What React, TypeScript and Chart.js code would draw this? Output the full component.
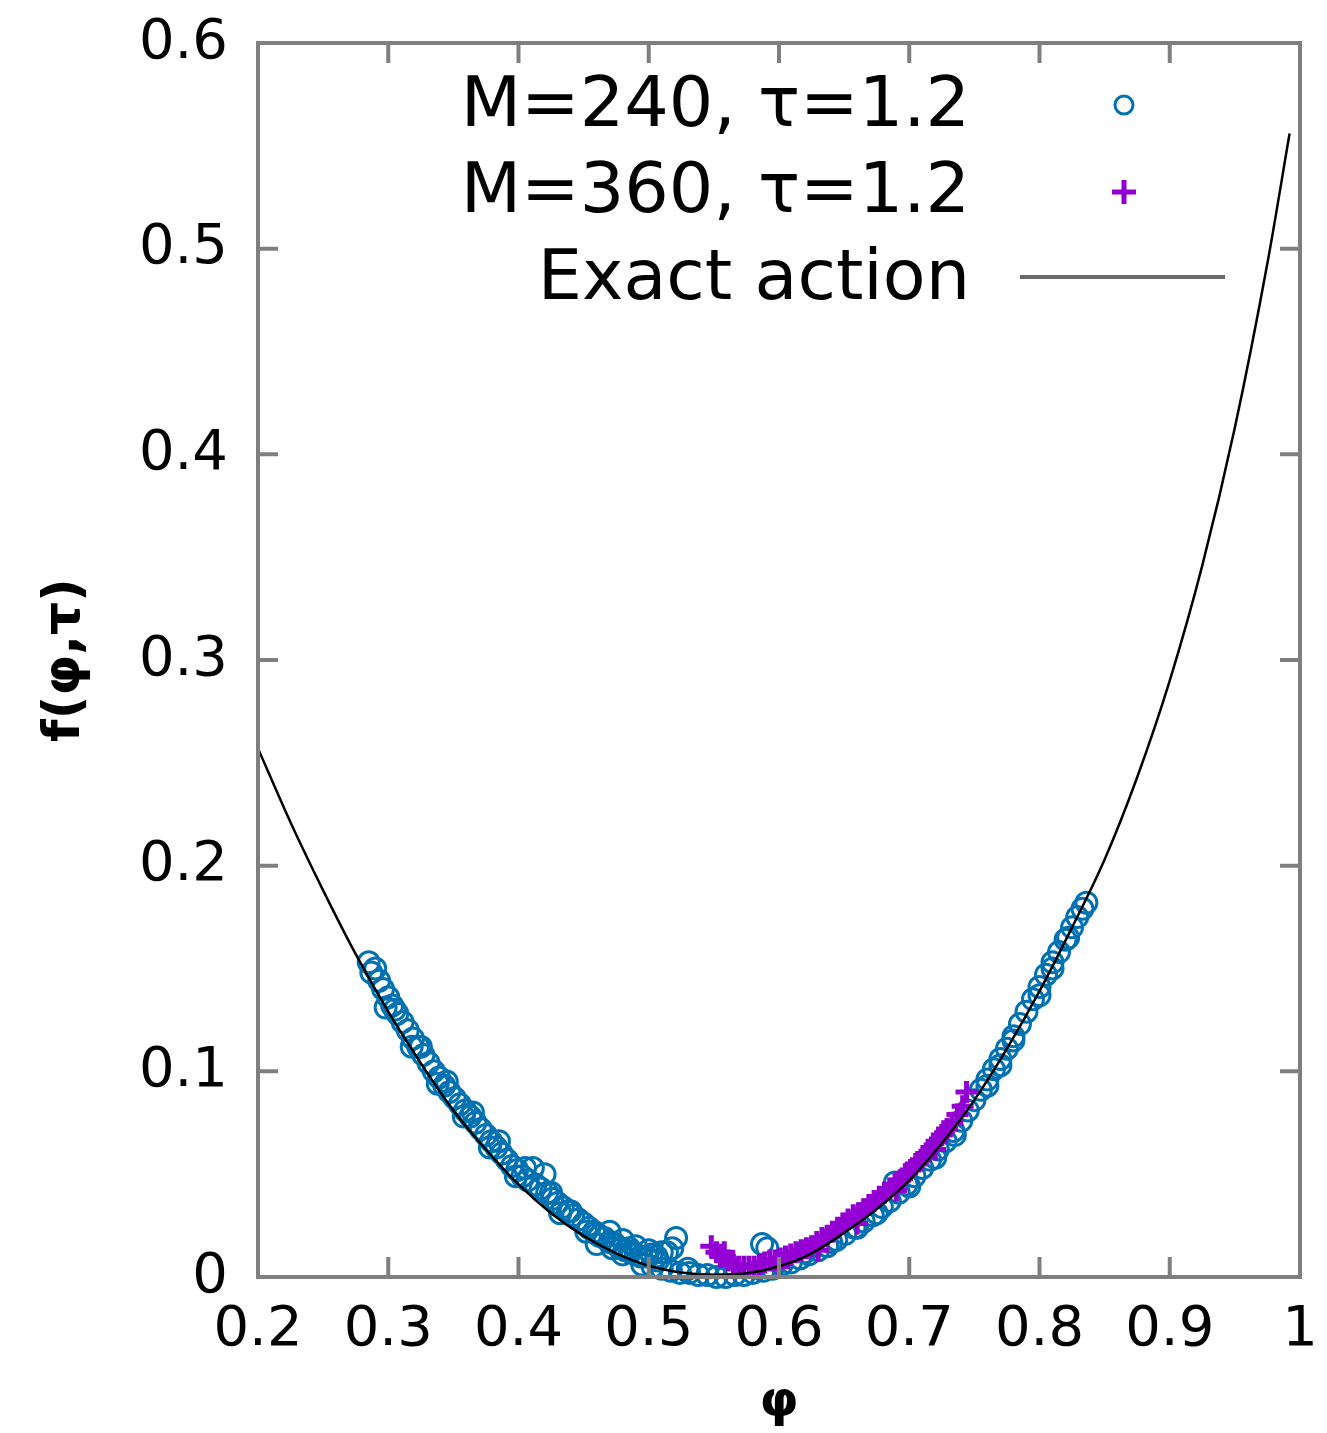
import React, { useEffect, useRef } from "react";
import { Chart, registerables } from "chart.js";

Chart.register(...registerables);

const xTicks = [0.2, 0.3, 0.4, 0.5, 0.6, 0.7, 0.8, 0.9, 1];
const yTicks = [0, 0.1, 0.2, 0.3, 0.4, 0.5, 0.6];

const legendLabels = ["M=240, τ=1.2", "M=360, τ=1.2", "Exact action"];

const curvePhi = [
  0.2, 0.225, 0.25, 0.275, 0.3, 0.325, 0.35, 0.375, 0.4, 0.425, 0.45, 0.475,
  0.5, 0.525, 0.55, 0.575, 0.6, 0.625, 0.65, 0.675, 0.7, 0.725, 0.75, 0.775,
  0.8, 0.825, 0.85, 0.875, 0.9, 0.925, 0.95, 0.975, 0.992,
];
const curveF = [
  0.257, 0.221, 0.188, 0.157, 0.129, 0.104, 0.081, 0.062, 0.045, 0.031, 0.02,
  0.0115, 0.0055, 0.0022, 0.0011, 0.0018, 0.0052, 0.0115, 0.0215, 0.033, 0.047,
  0.065, 0.086, 0.111, 0.139, 0.17, 0.203, 0.243, 0.29, 0.346, 0.413, 0.493,
  0.556,
];

const m240Phi = [
  0.285, 0.287, 0.29, 0.293, 0.296, 0.3, 0.303, 0.307, 0.311, 0.315,
  0.319, 0.323, 0.327, 0.331, 0.335, 0.339, 0.343, 0.347, 0.351, 0.355,
  0.359, 0.363, 0.367, 0.371, 0.375, 0.379, 0.383, 0.387, 0.391, 0.395,
  0.399, 0.403, 0.407, 0.411, 0.413, 0.417, 0.42, 0.422, 0.426, 0.43,
  0.434, 0.438, 0.442, 0.446, 0.45, 0.454, 0.458, 0.462, 0.466, 0.47,
  0.474, 0.478, 0.482, 0.486, 0.49, 0.494, 0.498, 0.502, 0.506, 0.51,
  0.514, 0.518, 0.521, 0.47, 0.48, 0.49, 0.5, 0.46, 0.48, 0.495,
  0.503, 0.51, 0.517, 0.524, 0.531, 0.538, 0.545, 0.552, 0.559, 0.566,
  0.573, 0.58, 0.587, 0.591, 0.588, 0.595, 0.602, 0.609, 0.616, 0.623,
  0.63, 0.637, 0.644, 0.651, 0.658, 0.665, 0.672, 0.679, 0.685, 0.689,
  0.692, 0.698, 0.704, 0.71, 0.716, 0.722, 0.728, 0.734, 0.74, 0.745,
  0.75, 0.755, 0.76, 0.765, 0.77, 0.775, 0.78, 0.785, 0.79, 0.795,
  0.8, 0.805, 0.81, 0.815, 0.82, 0.825, 0.829, 0.833, 0.836,
  0.298, 0.318, 0.338, 0.358, 0.378, 0.398, 0.432, 0.452, 0.472,
  0.66, 0.7, 0.72, 0.76, 0.78, 0.81,
  0.305, 0.325, 0.345, 0.365, 0.385, 0.405, 0.425, 0.44, 0.46, 0.485,
  0.507, 0.53, 0.62, 0.64, 0.675, 0.735, 0.77, 0.8, 0.822,
];
const m240F = [
  0.153, 0.148, 0.15, 0.144, 0.14, 0.136, 0.132, 0.128, 0.124, 0.12,
  0.116, 0.112, 0.108, 0.104, 0.1, 0.097, 0.093, 0.09, 0.087, 0.084,
  0.081, 0.078, 0.075, 0.072, 0.069, 0.066, 0.063, 0.06, 0.057, 0.054,
  0.052, 0.049, 0.047, 0.053, 0.045, 0.043, 0.05, 0.041, 0.038, 0.036,
  0.034, 0.032, 0.03, 0.028, 0.026, 0.024, 0.022, 0.02, 0.019, 0.017,
  0.016, 0.014, 0.013, 0.012, 0.011, 0.01, 0.01, 0.011, 0.01, 0.012,
  0.012, 0.014, 0.019, 0.022, 0.018, 0.015, 0.013, 0.016, 0.011, 0.006,
  0.005, 0.004, 0.003, 0.002, 0.002, 0.001, 0.001, 0.0, 0.0, 0.001,
  0.001, 0.002, 0.016, 0.014, 0.003, 0.004, 0.006, 0.007, 0.009, 0.011,
  0.013, 0.015, 0.018, 0.021, 0.024, 0.027, 0.03, 0.034, 0.037, 0.046,
  0.041, 0.045, 0.049, 0.053, 0.057, 0.062, 0.066, 0.071, 0.076, 0.081,
  0.086, 0.091, 0.096, 0.101, 0.106, 0.111, 0.117, 0.123, 0.129, 0.135,
  0.141, 0.147, 0.153, 0.158, 0.164, 0.17, 0.175, 0.179, 0.182,
  0.131, 0.112, 0.094, 0.078, 0.063, 0.049, 0.031, 0.022, 0.014,
  0.024, 0.044, 0.058, 0.093, 0.115, 0.150,
  0.13, 0.112, 0.095, 0.08, 0.066, 0.053, 0.041, 0.032, 0.021, 0.014,
  0.008, 0.004, 0.012, 0.017, 0.031, 0.069, 0.103, 0.137, 0.165,
];

const m360Phi = [
  0.548, 0.552, 0.555, 0.558, 0.561, 0.565, 0.569, 0.573, 0.577, 0.581,
  0.585, 0.589, 0.593, 0.597, 0.601, 0.605, 0.609, 0.613, 0.617, 0.621,
  0.625, 0.629, 0.633, 0.637, 0.641, 0.645, 0.649, 0.653, 0.657, 0.661,
  0.665, 0.669, 0.673, 0.677, 0.681, 0.685, 0.689, 0.693, 0.697, 0.701,
  0.705, 0.709, 0.713, 0.717, 0.721, 0.725, 0.729, 0.733, 0.737, 0.741,
  0.744, 0.6, 0.63, 0.66, 0.69, 0.72,
];
const m360F = [
  0.015, 0.012, 0.01, 0.012, 0.008, 0.006, 0.005, 0.005, 0.005, 0.005,
  0.006, 0.007, 0.008, 0.008, 0.009, 0.01, 0.011, 0.012, 0.013, 0.014,
  0.015, 0.017, 0.019, 0.02, 0.022, 0.024, 0.026, 0.028, 0.03, 0.031,
  0.033, 0.035, 0.037, 0.039, 0.041, 0.043, 0.045, 0.047, 0.05, 0.052,
  0.055, 0.057, 0.06, 0.063, 0.066, 0.069, 0.072, 0.075, 0.079, 0.083,
  0.09, 0.005, 0.013, 0.026, 0.042, 0.062,
];

const FONT = "'DejaVu Sans', 'Liberation Sans', sans-serif";
const BLUE = "#0072b2";
const PURPLE = "#9400d3";
const BORDER = "#7f7f7f";

const zip = (xs: number[], ys: number[]) => xs.map((x, i) => ({ x, y: ys[i] }));

const zeroPad = (s: any) => {
  s.paddingTop = 0;
  s.paddingBottom = 0;
  s.paddingLeft = 0;
  s.paddingRight = 0;
};

const framePlugin = {
  id: "frame",
  afterDatasetsDraw(chart: any) {
    const { ctx, chartArea: a, scales } = chart;
    ctx.save();
    ctx.strokeStyle = BORDER;
    ctx.lineWidth = 4;
    const tl = 20;
    ctx.beginPath();
    xTicks.forEach((v) => {
      const px = scales.x.getPixelForValue(v);
      ctx.moveTo(px, a.bottom);
      ctx.lineTo(px, a.bottom - tl);
      ctx.moveTo(px, a.top);
      ctx.lineTo(px, a.top + tl);
    });
    yTicks.forEach((v) => {
      const py = scales.y.getPixelForValue(v);
      ctx.moveTo(a.left, py);
      ctx.lineTo(a.left + tl, py);
      ctx.moveTo(a.right, py);
      ctx.lineTo(a.right - tl, py);
    });
    ctx.stroke();
    ctx.strokeRect(a.left, a.top, a.right - a.left, a.bottom - a.top);
    ctx.restore();
  },
  afterDraw(chart: any) {
    const { ctx } = chart;
    ctx.save();
    ctx.font = `70px ${FONT}`;
    ctx.fillStyle = "#000";
    ctx.textAlign = "right";
    ctx.textBaseline = "middle";
    const rows = [108, 194, 281];
    legendLabels.forEach((t, i) => ctx.fillText(t, 970, rows[i]));
    ctx.strokeStyle = BLUE;
    ctx.lineWidth = 3;
    ctx.beginPath();
    ctx.arc(1124, 105, 9, 0, Math.PI * 2);
    ctx.stroke();
    ctx.strokeStyle = PURPLE;
    ctx.lineWidth = 5;
    ctx.beginPath();
    ctx.moveTo(1112, 192);
    ctx.lineTo(1136, 192);
    ctx.moveTo(1124, 180);
    ctx.lineTo(1124, 204);
    ctx.stroke();
    ctx.strokeStyle = "#6a6a6a";
    ctx.lineWidth = 4;
    ctx.beginPath();
    ctx.moveTo(1020, 277);
    ctx.lineTo(1225, 277);
    ctx.stroke();
    ctx.restore();
  },
};

export default function App() {
  const ref = useRef<HTMLCanvasElement | null>(null);
  useEffect(() => {
    if (!ref.current) return;
    const chart = new Chart(ref.current, {
      type: "scatter",
      data: {
        datasets: [
          {
            label: legendLabels[2],
            data: zip(curvePhi, curveF),
            showLine: true,
            borderColor: "#000",
            borderWidth: 2.5,
            pointRadius: 0,
            cubicInterpolationMode: "monotone",
            order: 0,
          } as any,
          {
            label: legendLabels[1],
            data: zip(m360Phi, m360F),
            pointStyle: "cross",
            pointRadius: 11,
            borderColor: PURPLE,
            backgroundColor: PURPLE,
            pointBorderWidth: 5,
            borderWidth: 5,
            clip: false,
            order: 1,
          } as any,
          {
            label: legendLabels[0],
            data: zip(m240Phi, m240F),
            pointStyle: "circle",
            pointRadius: 10.5,
            borderColor: BLUE,
            backgroundColor: "rgba(0,0,0,0)",
            pointBorderWidth: 3,
            borderWidth: 3,
            clip: false,
            order: 2,
          } as any,
        ],
      },
      options: {
        responsive: false,
        animation: false,
        devicePixelRatio: 1,
        layout: { padding: { left: 0, right: 27, top: 43, bottom: 0 } },
        plugins: { legend: { display: false }, tooltip: { enabled: false } },
        scales: {
          x: {
            type: "linear",
            min: 0.2,
            max: 1,
            grid: { display: false, drawTicks: false },
            border: { display: false },
            afterBuildTicks: (s: any) => {
              s.ticks = xTicks.map((v) => ({ value: v }));
            },
            afterFit: (s: any) => {
              s.height = 156;
              zeroPad(s);
            },
            ticks: {
              padding: 20,
              color: "#000",
              maxRotation: 0,
              autoSkip: false,
              font: { family: FONT, size: 56 },
              callback: (v: any) => String(v),
            },
            title: {
              display: true,
              text: "φ",
              color: "#000",
              font: { family: FONT, size: 50, weight: "bold" },
              padding: { top: 0, bottom: 0 },
            },
          },
          y: {
            type: "linear",
            min: 0,
            max: 0.6,
            grid: { display: false, drawTicks: false },
            border: { display: false },
            afterBuildTicks: (s: any) => {
              s.ticks = yTicks.map((v) => ({ value: v }));
            },
            afterFit: (s: any) => {
              s.width = 258;
              zeroPad(s);
            },
            ticks: {
              padding: 30,
              color: "#000",
              autoSkip: false,
              font: { family: FONT, size: 56 },
              callback: (v: any) => String(v),
            },
            title: {
              display: true,
              text: "f(φ,τ)",
              color: "#000",
              font: { family: FONT, size: 52, weight: "bold" },
              padding: { top: 34, bottom: 0 },
            },
          },
        },
      },
      plugins: [framePlugin],
    });
    return () => chart.destroy();
  }, []);
  return (
    <div style={{ position: "absolute", left: 0, top: 0, width: 1327, height: 1433, background: "#fff" }}>
      <canvas ref={ref} width={1327} height={1433} style={{ width: 1327, height: 1433, display: "block" }} />
    </div>
  );
}
